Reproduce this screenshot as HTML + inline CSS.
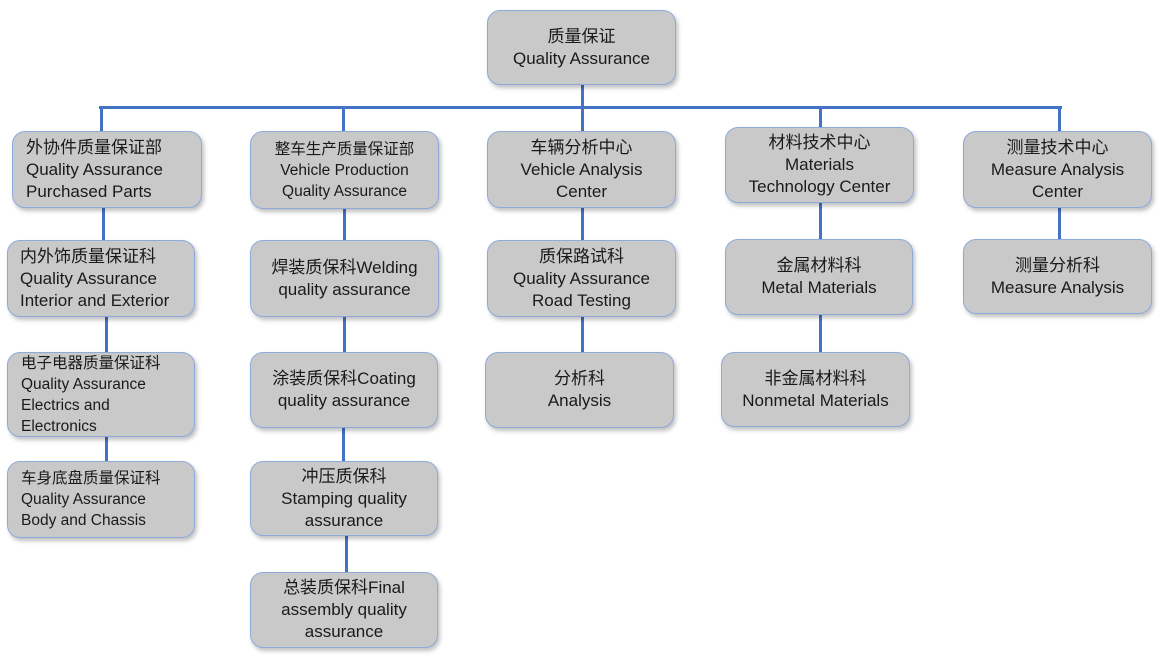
<!DOCTYPE html>
<html><head><meta charset="utf-8"><style>
body{margin:0;width:1159px;height:657px;background:#fff;position:relative;overflow:hidden;font-family:"Liberation Sans","Noto Sans CJK SC",sans-serif;color:#1a1a1a}
.b{position:absolute;box-sizing:border-box;background:#c9c9c9;border:1.5px solid #8eaadb;border-radius:13px;box-shadow:2px 3px 4px rgba(0,0,0,.25);display:flex;flex-direction:column;justify-content:center;align-items:center;text-align:center;font-size:17px;line-height:22px}
.l{align-items:flex-start;text-align:left;padding-left:13px}
.s{font-size:15.5px;line-height:21px}
.v{position:absolute;background:#4472c4;width:3px}
.h{position:absolute;background:#4472c4;height:3px}
</style></head><body>
<div class="h" style="left:99px;top:106px;width:963px"></div>
<div class="v" style="left:581px;top:84px;height:24px"></div>
<div class="v" style="left:100px;top:106px;height:26px"></div>
<div class="v" style="left:102px;top:206px;height:36px"></div>
<div class="v" style="left:105px;top:315px;height:38px"></div>
<div class="v" style="left:105px;top:435px;height:28px"></div>
<div class="v" style="left:342px;top:106px;height:26px"></div>
<div class="v" style="left:343px;top:207px;height:35px"></div>
<div class="v" style="left:343px;top:315px;height:38px"></div>
<div class="v" style="left:342px;top:426px;height:36px"></div>
<div class="v" style="left:345px;top:534px;height:40px"></div>
<div class="v" style="left:581px;top:106px;height:26px"></div>
<div class="v" style="left:581px;top:206px;height:36px"></div>
<div class="v" style="left:581px;top:315px;height:38px"></div>
<div class="v" style="left:819px;top:106px;height:22px"></div>
<div class="v" style="left:819px;top:201px;height:40px"></div>
<div class="v" style="left:819px;top:313px;height:40px"></div>
<div class="v" style="left:1058px;top:106px;height:26px"></div>
<div class="v" style="left:1058px;top:206px;height:35px"></div>

<div class="b" style="left:487px;top:10px;width:189px;height:75px">质量保证<br>Quality Assurance</div>

<div class="b l" style="left:12px;top:131px;width:190px;height:77px">外协件质量保证部<br>Quality Assurance<br>Purchased Parts</div>
<div class="b l" style="left:7px;top:240px;width:188px;height:77px;padding-left:12px">内外饰质量保证科<br>Quality Assurance<br>Interior and Exterior</div>
<div class="b l s" style="left:7px;top:352px;width:188px;height:85px">电子电器质量保证科<br>Quality Assurance<br>Electrics and<br>Electronics</div>
<div class="b l s" style="left:7px;top:461px;width:188px;height:77px">车身底盘质量保证科<br>Quality Assurance<br>Body and Chassis</div>

<div class="b s" style="left:250px;top:131px;width:189px;height:78px">整车生产质量保证部<br>Vehicle Production<br>Quality Assurance</div>
<div class="b" style="left:250px;top:240px;width:189px;height:77px">焊装质保科Welding<br>quality assurance</div>
<div class="b" style="left:250px;top:352px;width:188px;height:76px">涂装质保科Coating<br>quality assurance</div>
<div class="b" style="left:250px;top:461px;width:188px;height:75px">冲压质保科<br>Stamping quality<br>assurance</div>
<div class="b" style="left:250px;top:572px;width:188px;height:76px">总装质保科Final<br>assembly quality<br>assurance</div>

<div class="b" style="left:487px;top:131px;width:189px;height:77px">车辆分析中心<br>Vehicle Analysis<br>Center</div>
<div class="b" style="left:487px;top:240px;width:189px;height:77px">质保路试科<br>Quality Assurance<br>Road Testing</div>
<div class="b" style="left:485px;top:352px;width:189px;height:76px">分析科<br>Analysis</div>

<div class="b" style="left:725px;top:127px;width:189px;height:76px">材料技术中心<br>Materials<br>Technology Center</div>
<div class="b" style="left:725px;top:239px;width:188px;height:76px">金属材料科<br>Metal Materials</div>
<div class="b" style="left:721px;top:352px;width:189px;height:75px">非金属材料科<br>Nonmetal Materials</div>

<div class="b" style="left:963px;top:131px;width:189px;height:77px">测量技术中心<br>Measure Analysis<br>Center</div>
<div class="b" style="left:963px;top:239px;width:189px;height:75px">测量分析科<br>Measure Analysis</div>
</body></html>
